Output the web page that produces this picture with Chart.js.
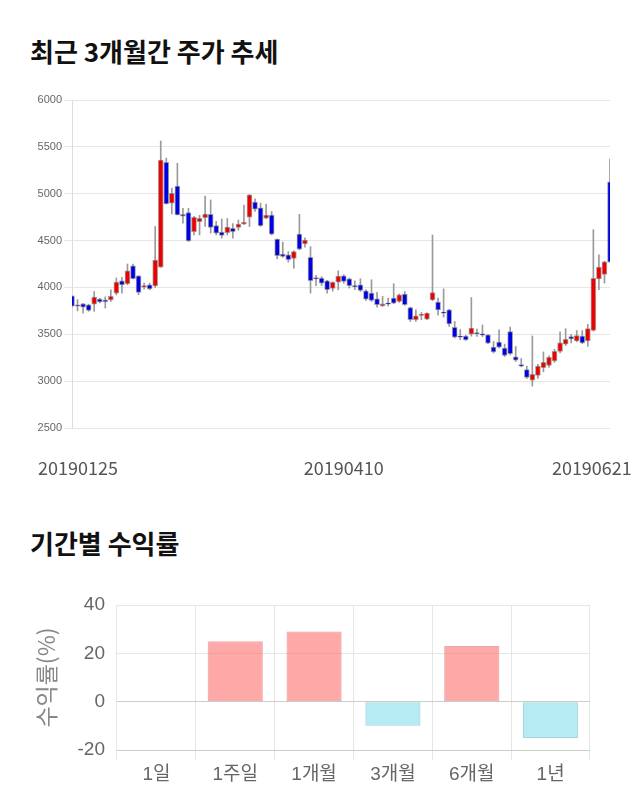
<!DOCTYPE html>
<html>
<head>
<meta charset="utf-8">
<script src="https://cdn.jsdelivr.net/npm/chart.js@4.4.1/dist/chart.umd.min.js"></script>
<style>
  body { margin: 0; width: 640px; height: 810px; background: #fff; position: relative; overflow: hidden; font-family: 'Noto Sans CJK KR', sans-serif; }
  .title { position: absolute; left: 30px; margin: 0; font-size: 26px; font-weight: bold; color: #111; line-height: 36px; }
  #t1 { top: 33px; }
  #t2 { top: 525px; }
  #stockWrap { position: absolute; left: 0; top: 90px; }
  #returnWrap { position: absolute; left: 0; top: 590px; }
</style>
</head>
<body>
<h2 class="title" id="t1">최근 3개월간 주가 추세</h2>
<h2 class="title" id="t2">기간별 수익률</h2>
<div id="stockWrap"><canvas id="stockChart" width="640" height="400"></canvas></div>
<div id="returnWrap"><canvas id="returnChart" width="640" height="210"></canvas></div>
<script>
// * daily candles, 20190125 ~ 20190621
const dates = [
  '20190125', '20190128', '20190129', '20190130', '20190131', '20190201', '20190207', '20190208',
  '20190211', '20190212', '20190213', '20190214', '20190215', '20190218', '20190219', '20190220',
  '20190221', '20190222', '20190225', '20190226', '20190227', '20190228', '20190304', '20190305',
  '20190306', '20190307', '20190308', '20190311', '20190312', '20190313', '20190314', '20190315',
  '20190318', '20190319', '20190320', '20190321', '20190322', '20190325', '20190326', '20190327',
  '20190328', '20190329', '20190401', '20190402', '20190403', '20190404', '20190405', '20190408',
  '20190409', '20190410', '20190411', '20190412', '20190415', '20190416', '20190417', '20190418',
  '20190419', '20190422', '20190423', '20190424', '20190425', '20190426', '20190429', '20190430',
  '20190502', '20190503', '20190507', '20190508', '20190509', '20190510', '20190513', '20190514',
  '20190515', '20190516', '20190517', '20190520', '20190521', '20190522', '20190523', '20190524',
  '20190527', '20190528', '20190529', '20190530', '20190531', '20190603', '20190604', '20190605',
  '20190610', '20190611', '20190612', '20190613', '20190614', '20190617', '20190618', '20190619',
  '20190620', '20190621'
];
const opens = [
  3910, 3815, 3825, 3815, 3822, 3875, 3868, 3868, 3940, 4071, 4040, 4231, 4125, 4003, 4028, 4016,
  4215, 5335, 4899, 5082, 4780, 4800, 4596, 4702, 4745, 4781, 4660, 4590, 4585, 4630, 4640, 4677,
  4750, 4910, 4850, 4738, 4773, 4517, 4355, 4347, 4310, 4570, 4463, 4322, 4105, 4100, 4070, 3990,
  4055, 4125, 4093, 4021, 4028, 3964, 3940, 3879, 3804, 3833, 3886, 3850, 3929, 3786, 3655, 3701,
  3662, 3867, 3843, 3738, 3760, 3575, 3482, 3482, 3500, 3518, 3504, 3493, 3363, 3416, 3352, 3530,
  3260, 3177, 3124, 3011, 3060, 3145, 3167, 3216, 3316, 3394, 3475, 3429, 3482, 3429, 3542, 4092,
  4138, 5127
];
const highs = [
  3910, 3870, 3830, 3820, 3957, 3885, 3900, 3975, 4100, 4107, 4250, 4250, 4125, 4046, 4046, 4650,
  5563, 5380, 5060, 5325, 4845, 4845, 4760, 4770, 4975, 4933, 4705, 4730, 4735, 4680, 4720, 4880,
  4990, 4945, 4900, 4890, 4810, 4517, 4485, 4382, 4390, 4780, 4530, 4435, 4130, 4115, 4075, 4060,
  4178, 4135, 4100, 4071, 4093, 3975, 4082, 3947, 3904, 3886, 4039, 3930, 3957, 3790, 3761, 3733,
  3730, 4560, 3886, 3985, 3765, 3637, 3550, 3490, 3892, 3555, 3600, 3497, 3423, 3548, 3395, 3576,
  3370, 3241, 3160, 3482, 3180, 3312, 3270, 3340, 3525, 3560, 3500, 3540, 3540, 3606, 4617, 4347,
  4280, 5370
];
const lows = [
  3790, 3750, 3725, 3745, 3745, 3835, 3780, 3850, 3920, 3940, 4028, 4090, 3922, 3982, 3975, 4000,
  4215, 4890, 4785, 4773, 4685, 4490, 4560, 4560, 4650, 4580, 4560, 4525, 4560, 4525, 4610, 4670,
  4650, 4810, 4650, 4735, 4560, 4305, 4320, 4270, 4205, 4400, 4430, 3940, 4020, 4020, 3940, 3960,
  3975, 4045, 3993, 3975, 3957, 3861, 3850, 3790, 3797, 3804, 3826, 3840, 3808, 3637, 3637, 3655,
  3655, 3860, 3705, 3683, 3585, 3460, 3442, 3435, 3480, 3476, 3476, 3400, 3300, 3355, 3263, 3281,
  3210, 3152, 3028, 2947, 3028, 3100, 3150, 3200, 3300, 3380, 3408, 3420, 3400, 3372, 3535, 3975,
  4046, 4270
];
const closes = [
  3800, 3800, 3790, 3755, 3897, 3845, 3845, 3904, 4057, 4028, 4178, 4093, 3947, 4021, 3985, 4293,
  5360, 4890, 5005, 4773, 4760, 4496, 4747, 4738, 4784, 4640, 4580, 4555, 4645, 4595, 4677, 4695,
  4987, 4835, 4660, 4773, 4568, 4340, 4330, 4297, 4382, 4407, 4506, 4073, 4090, 4045, 3975, 4055,
  4122, 4064, 4018, 4007, 3968, 3876, 3861, 3815, 3826, 3822, 3833, 3922, 3815, 3655, 3697, 3712,
  3726, 3945, 3760, 3725, 3610, 3469, 3469, 3440, 3565, 3504, 3490, 3405, 3313, 3363, 3274, 3292,
  3224, 3160, 3039, 3074, 3160, 3202, 3255, 3319, 3408, 3447, 3450, 3486, 3408, 3560, 4096, 4216,
  4273, 4270
];
const shownDates = ['20190125', '20190410', '20190621'];

// * period returns (%)
const periods = ['1일', '1주일', '1개월', '3개월', '6개월', '1년'];
const returns = [0, 25, 29, -10, 23, -15];

const UP = '#ee0000';
const DOWN = '#0000e6';

// * candle chart: wick bars (low-high) under body bars (open-close)
new Chart(document.getElementById('stockChart'), {
  type: 'bar',
  data: {
    labels: dates,
    datasets: [{
      label: 'body',
      order: 0,
      grouped: false,
      data: opens.map(function (o, i) { return [o, closes[i]]; }),
      backgroundColor: closes.map(function (c, i) { return c >= opens[i] ? UP : DOWN; }),
      borderColor: 'rgba(90, 90, 90, 0.55)',
      borderWidth: 1,
      borderSkipped: false,
      barThickness: 5
    },
    {
      label: 'wick',
      order: 1,
      grouped: false,
      data: lows.map(function (l, i) { return [l, highs[i]]; }),
      backgroundColor: '#9a9a9a',
      barThickness: 1
    }]
  },
  options: {
    responsive: false,
    animation: false,
    layout: { padding: { top: 10, right: 30, left: 0, bottom: 0 } },
    plugins: { legend: { display: false }, tooltip: { enabled: false } },
    scales: {
      x: {
        offset: false,
        grid: { display: false },
        border: { display: false },
        ticks: {
          autoSkip: false,
          maxRotation: 0,
          padding: 21,
          color: '#555',
          font: { family: "'Noto Sans CJK KR', sans-serif", size: 18 },
          callback: function (value, index) {
            var d = dates[index];
            if (d === shownDates[0]) return '   ' + d;
            if (d === shownDates[2]) return d + '         ';
            return shownDates.indexOf(d) >= 0 ? d : '';
          }
        },
        afterFit: function (scale) {
          scale.height = 62;
          scale.paddingLeft = 0;
          scale.paddingRight = 0;
        }
      },
      y: {
        min: 2500,
        max: 6000,
        ticks: {
          stepSize: 500,
          padding: 2,
          color: '#666',
          font: { family: "'Liberation Sans', sans-serif", size: 11 },
          callback: function (value) { return String(value); }
        },
        grid: { color: '#e6e6e6', tickLength: 8 },
        border: { color: '#dddddd' },
        afterFit: function (scale) {
          scale.width = 72;
          scale.paddingTop = 0;
          scale.paddingBottom = 0;
        }
      }
    }
  }
});

// * period return bars
new Chart(document.getElementById('returnChart'), {
  type: 'bar',
  data: {
    labels: periods,
    datasets: [{
      data: returns,
      backgroundColor: returns.map(function (v) { return v >= 0 ? 'rgba(255, 110, 110, 0.6)' : 'rgba(110, 215, 232, 0.5)'; }),
      borderColor: returns.map(function (v) { return v >= 0 ? 'rgba(230, 160, 160, 0.9)' : 'rgba(150, 210, 220, 0.9)'; }),
      borderWidth: 1,
      borderSkipped: false,
      barPercentage: 0.7,
      categoryPercentage: 1
    }]
  },
  options: {
    responsive: false,
    animation: false,
    layout: { padding: { top: 15, right: 50, left: 0, bottom: 0 } },
    plugins: { legend: { display: false }, tooltip: { enabled: false } },
    scales: {
      x: {
        grid: { color: '#e6e6e6', tickLength: 10, offset: true },
        border: { display: false },
        ticks: { padding: 3, color: '#666', font: { family: "'Liberation Sans', 'Noto Sans CJK KR', sans-serif", size: 19 } },
        afterFit: function (scale) {
          scale.height = 50;
          scale.paddingLeft = 0;
          scale.paddingRight = 0;
        }
      },
      y: {
        min: -20,
        max: 40,
        ticks: { stepSize: 20, padding: 12, color: '#666', font: { family: "'Liberation Sans', sans-serif", size: 19 } },
        grid: {
          drawTicks: false,
          color: function (ctx) { return ctx.tick && ctx.tick.value <= 0 ? '#cccccc' : '#e6e6e6'; }
        },
        border: { display: false },
        title: { display: true, text: '수익률(%)', color: '#888', padding: { top: 32, bottom: 0 }, font: { family: "'Noto Sans CJK KR', sans-serif", size: 23 } },
        afterFit: function (scale) {
          scale.width = 117;
          scale.paddingTop = 0;
          scale.paddingBottom = 0;
        }
      }
    }
  }
});
</script>
</body>
</html>
